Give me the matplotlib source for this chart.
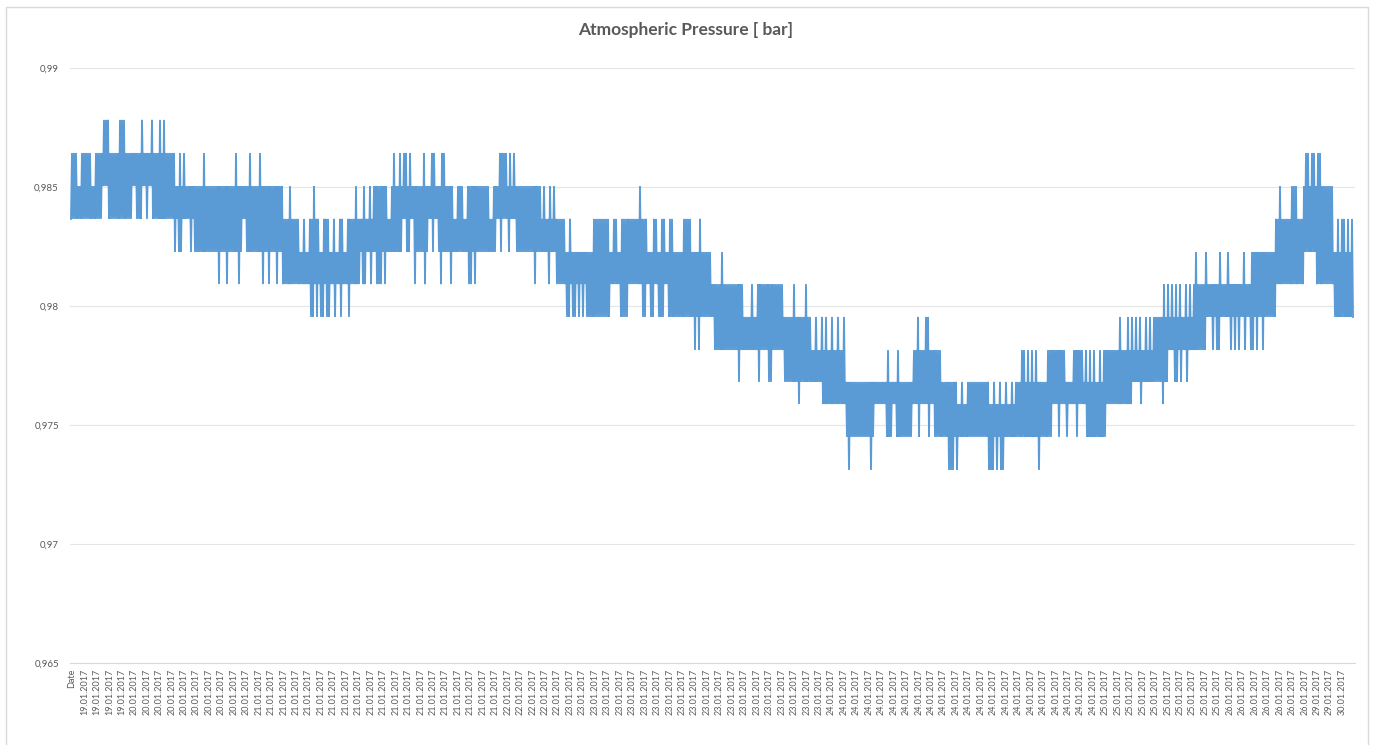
import numpy as np
import matplotlib
matplotlib.use('Agg')
import matplotlib.pyplot as plt
from matplotlib.patches import Rectangle

# sensor output is quantised: the readings only take these values [bar], bottom to top
levels = [0.97311, 0.97450, 0.97588, 0.97681, 0.97815, 0.97954,
          0.98092, 0.98227, 0.98366, 0.98504, 0.98643, 0.98782]

n_samples = 1283

# the reading flickers between an upper and a lower level; each is a run of (start sample, level index)
hi_runs = [(0, 10), (105, 9), (213, 8), (303, 9), (470, 8), (515, 7), (523, 8), (577, 7),
           (582, 8), (603, 7), (613, 8), (620, 7), (640, 6), (712, 5), (741, 4), (775, 3),
           (842, 4), (870, 3), (918, 2), (945, 3), (977, 4), (995, 3), (1002, 4), (1012, 3),
           (1032, 4), (1083, 5), (1122, 6), (1183, 7), (1205, 8), (1232, 9), (1263, 7)]
lo_runs = [(0, 8), (128, 7), (212, 6), (290, 7), (425, 8), (445, 7), (485, 6), (515, 5),
           (540, 6), (550, 5), (558, 6), (572, 5), (576, 6), (580, 5), (583, 6), (588, 5),
           (593, 6), (598, 5), (643, 4), (713, 3), (752, 2), (775, 1), (842, 2), (863, 1),
           (982, 2), (1015, 1), (1035, 2), (1062, 3), (1098, 4), (1135, 5), (1205, 6),
           (1233, 7), (1245, 6), (1263, 5)]

# single readings outside the usual pair (sample, level index)
hi_spikes = [(32, 11), (34, 11), (37, 11), (48, 11), (51, 11), (53, 11), (71, 11), (81, 11),
             (88, 11), (92, 11), (7, 9), (20, 9),
             (108, 10), (113, 10), (132, 10), (165, 10), (179, 10), (188, 10),
             (218, 9), (243, 9), (284, 9), (292, 9), (298, 9),
             (228, 7), (235, 7), (248, 7), (259, 7), (265, 7), (272, 7),
             (322, 10), (329, 10), (332, 10), (335, 10), (338, 10), (352, 10), (360, 10),
             (362, 10), (371, 10), (373, 10), (428, 10), (430, 10), (432, 10), (434, 10),
             (438, 10), (443, 10), (317, 8), (383, 8), (392, 8), (418, 8),
             (473, 9), (478, 9), (482, 9), (495, 7), (500, 7), (504, 7), (508, 7), (513, 7),
             (538, 7), (546, 7), (587, 7), (595, 7), (628, 8), (569, 9),
             (650, 7), (672, 5), (677, 5), (682, 5), (723, 6), (735, 6),
             (745, 5), (750, 5), (755, 5), (761, 5), (767, 5), (772, 5),
             (817, 4), (826, 4), (846, 5), (854, 5), (857, 5), (887, 2), (893, 2),
             (922, 3), (928, 3), (935, 3), (941, 3),
             (950, 4), (953, 4), (956, 4), (960, 4), (965, 4), (1015, 4), (1019, 4),
             (1022, 4), (1028, 4),
             (1048, 5), (1057, 5), (1061, 5), (1065, 5), (1068, 5), (1075, 5), (1079, 5),
             (1092, 6), (1096, 6), (1101, 6), (1105, 6), (1109, 6), (1114, 6), (1119, 6),
             (1124, 7), (1135, 7), (1148, 7), (1157, 7), (1173, 7), (1181, 7),
             (1208, 9), (1220, 9), (1223, 9), (1225, 9),
             (1234, 10), (1237, 10), (1240, 10), (1243, 10), (1246, 10), (1249, 10),
             (1266, 8), (1270, 8), (1273, 8), (1277, 8), (1280, 8)]
lo_spikes = [(32, 9), (34, 9), (62, 9), (72, 9), (78, 9),
             (103, 7), (107, 7), (110, 7), (120, 7), (123, 7), (125, 7),
             (148, 6), (155, 6), (168, 6), (191, 6), (198, 6), (205, 6), (172, 8),
             (240, 5), (242, 5), (245, 5), (249, 5), (252, 5), (255, 5), (257, 5), (263, 5),
             (270, 5), (277, 5),
             (291, 6), (294, 6), (300, 6), (305, 6), (308, 6), (310, 6), (313, 6), (344, 6),
             (353, 6), (370, 6), (380, 6), (397, 6), (400, 6), (404, 6),
             (331, 8), (340, 8), (358, 8), (363, 8), (429, 7), (437, 7), (463, 6), (477, 6),
             (495, 5), (498, 5), (501, 5), (504, 5), (508, 5), (511, 5),
             (623, 4), (628, 4), (668, 3), (688, 3), (697, 3), (700, 3), (727, 2),
             (777, 0), (799, 0), (804, 2), (808, 2), (812, 2), (822, 2), (848, 1), (857, 1),
             (878, 0), (880, 0), (882, 0), (885, 0), (918, 0), (920, 0), (922, 0), (925, 0),
             (929, 0), (932, 0), (968, 0), (987, 1), (995, 1), (1005, 1),
             (1070, 2), (1092, 2), (1103, 3), (1106, 3), (1109, 3), (1115, 3),
             (1142, 4), (1145, 4), (1148, 4), (1160, 4), (1163, 4), (1167, 4), (1173, 4),
             (1179, 4), (1182, 4), (1185, 4), (1191, 4)]

# category labels of the x axis
date_names = ['19.01.2017', '20.01.2017', '21.01.2017', '22.01.2017', '23.01.2017',
              '24.01.2017', '25.01.2017', '26.01.2017', '29.01.2017', '30.01.2017']
date_counts = [4, 10, 20, 5, 21, 22, 10, 7, 2, 1]

y_ticks = [0.965, 0.97, 0.975, 0.98, 0.985, 0.99]
y_labels = ['0,965', '0,97', '0,975', '0,98', '0,985', '0,99']


def build_track(runs, spikes, upper):
    track = np.zeros(n_samples, dtype=int)
    starts = [r[0] for r in runs] + [n_samples]
    for (s, lvl), e in zip(runs, starts[1:]):
        track[s:e] = lvl
    base = track.copy()
    for s, lvl in spikes:
        # a reading that stays inside the band leaves a gap, hold it a little longer
        inside = lvl < base[s] if upper else lvl > base[s]
        track[s:s + (4 if inside else 2)] = lvl
    return track


hi = build_track(hi_runs, hi_spikes, True)
lo = build_track(lo_runs, lo_spikes, False)
idx = np.arange(n_samples)
pressure = np.array(levels)[np.where(idx % 2 == 1, hi, lo)]

x_labels = ['Date']
for name, cnt in zip(date_names, date_counts):
    x_labels += [name] * cnt

W, H = 1381, 745
fig = plt.figure(figsize=(W / 100, H / 100), dpi=100)
plt.rcParams['font.family'] = ['Lato', 'DejaVu Sans']

# chart frame
fig.patches.append(Rectangle((6 / W, -0.01), 1362 / W, 1 - 7 / H + 0.01, transform=fig.transFigure,
                             fill=False, edgecolor='#D9D9D9', linewidth=1.0))

ax = fig.add_axes([70 / W, 1 - 663 / H, 1285 / W, 595 / H])
ax.plot(idx, pressure, color='#5B9BD5', linewidth=1.35, solid_joinstyle='miter')

ax.set_xlim(-1, 1284)
ax.set_ylim(0.965, 0.99)
ax.set_yticks(y_ticks)
ax.set_yticklabels(y_labels, fontsize=7, color='#595959')
ax.set_xticks(np.linspace(1, 1271, len(x_labels)))
ax.set_xticklabels(x_labels, rotation=90, fontsize=6.5, color='#595959', va='top')
ax.tick_params(axis='both', length=0)
ax.tick_params(axis='y', pad=8)
ax.tick_params(axis='x', pad=4)
ax.grid(axis='y', color='#E5E5E5', linewidth=0.8)
ax.set_axisbelow(True)
for side in ['top', 'right', 'left']:
    ax.spines[side].set_visible(False)
ax.spines['bottom'].set_color('#D9D9D9')

fig.text(686 / W, 1 - 30 / H, 'Atmospheric Pressure [ bar]', ha='center', va='center',
         fontsize=12.5, fontweight='bold', color='#595959')

fig.savefig('out.png', dpi=100)
